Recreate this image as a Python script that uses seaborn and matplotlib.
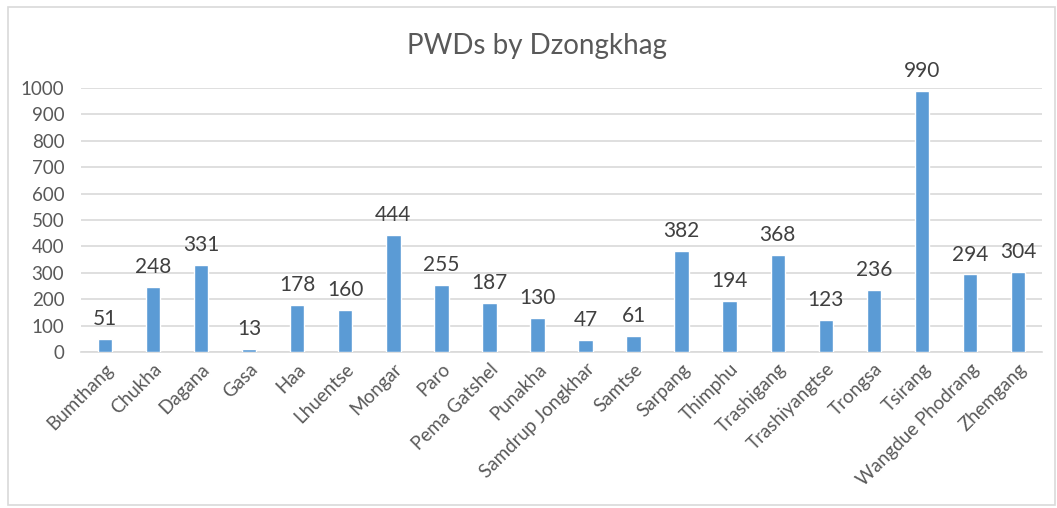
import matplotlib
matplotlib.use("Agg")
import matplotlib.pyplot as plt
import seaborn as sns
import pandas as pd
from matplotlib.patches import Rectangle

dzongkhags = ["Bumthang", "Chukha", "Dagana", "Gasa", "Haa", "Lhuentse", "Mongar",
              "Paro", "Pema Gatshel", "Punakha", "Samdrup Jongkhar", "Samtse",
              "Sarpang", "Thimphu", "Trashigang", "Trashiyangtse", "Trongsa",
              "Tsirang", "Wangdue Phodrang", "Zhemgang"]
pwds = [51, 248, 331, 13, 178, 160, 444, 255, 187, 130, 47, 61,
        382, 194, 368, 123, 236, 990, 294, 304]
yticks = [0, 100, 200, 300, 400, 500, 600, 700, 800, 900, 1000]
title = "PWDs by Dzongkhag"

sns.set_theme(style="white")
plt.rcParams["font.family"] = ["Lato", "DejaVu Sans"]

df = pd.DataFrame({"Dzongkhag": dzongkhags, "PWDs": pwds})

fig = plt.figure(figsize=(10.57, 5.08), dpi=100)
ax = fig.add_axes([0.0766, 0.307, 0.9092, 0.520])

sns.barplot(data=df, x="Dzongkhag", y="PWDs", color="#5B9BD5", width=0.3,
            saturation=1, ax=ax, zorder=3)

ax.set_ylim(0, 1000)
ax.set_xlim(-0.5, len(dzongkhags) - 0.5)
ax.set_yticks(yticks)
ax.set_yticklabels([str(t) for t in yticks])
ax.yaxis.grid(True, color="#D9D9D9", linewidth=1.2, zorder=0)
ax.set_axisbelow(True)
for s in ["top", "right", "left"]:
    ax.spines[s].set_visible(False)
ax.spines["bottom"].set_color("#D9D9D9")
ax.spines["bottom"].set_linewidth(1.2)
ax.set_xlabel("")
ax.set_ylabel("")
ax.tick_params(axis="both", length=0, colors="#595959", labelsize=13.5)
ax.tick_params(axis="y", pad=12)
ax.tick_params(axis="x", pad=6)
plt.setp(ax.get_xticklabels(), rotation=45, ha="right", rotation_mode="anchor")

for c in ax.containers:
    ax.bar_label(c, labels=[str(v) for v in pwds], padding=7, fontsize=15,
                 color="#404040")

fig.text(0.508, 0.91, title, ha="center", va="center", fontsize=20, color="#595959")

fig.patches.append(Rectangle((0.008, 0.006), 0.99, 0.98, transform=fig.transFigure,
                             fill=False, edgecolor="#D9D9D9", linewidth=1.2))

fig.savefig("out.png", dpi=100, facecolor="white")
